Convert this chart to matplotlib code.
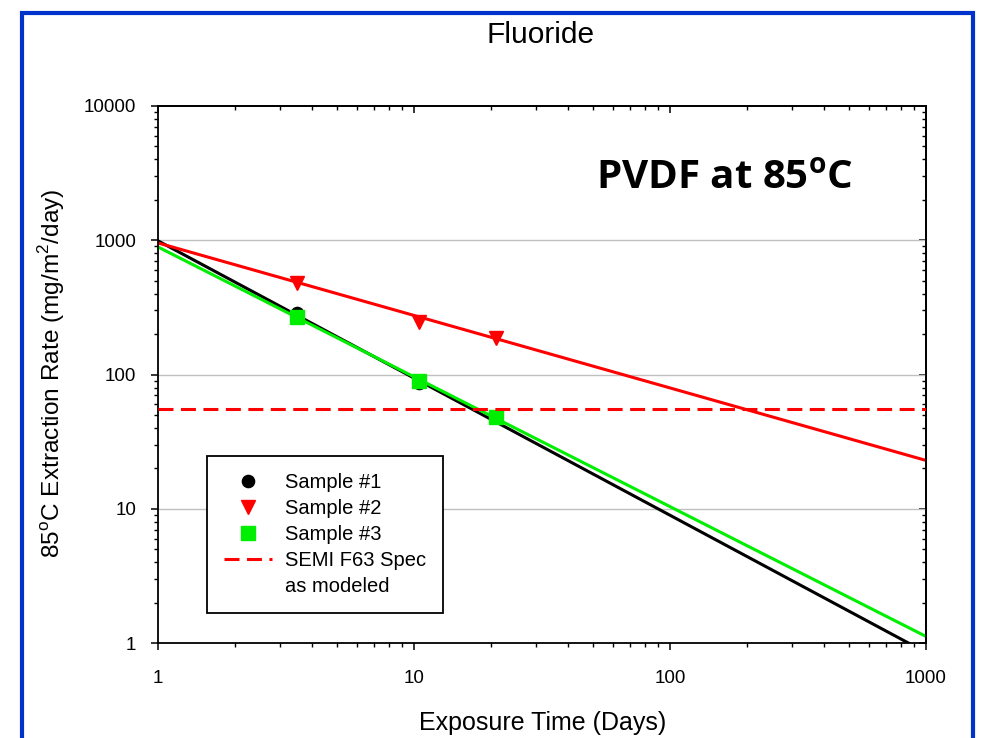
import numpy as np
import matplotlib
matplotlib.use("Agg")
import matplotlib.pyplot as plt
from matplotlib.ticker import FixedLocator, FuncFormatter, NullFormatter, LogLocator
from matplotlib.patches import Rectangle
from matplotlib.lines import Line2D

plt.rcParams['font.family'] = ['Liberation Sans', 'DejaVu Sans']
plt.rcParams['mathtext.fontset'] = 'custom'
plt.rcParams['mathtext.rm'] = 'Liberation Sans'
plt.rcParams['mathtext.bf'] = 'Open Sans:bold'

# ---- data ----
days = [3.5, 10.5, 21.0]
sample1 = [287, 86, 48]
sample2 = [481, 246, 188]
sample3 = [268, 90, 48]
# power-law fits y = a * x^b
fit_a = [990, 955, 891]
fit_b = [-1.022, -0.54, -0.967]
spec_value = 55
x_ticks = [1, 10, 100, 1000]
y_ticks = [1, 10, 100, 1000, 10000]
legend_labels = ['Sample #1', 'Sample #2', 'Sample #3', 'SEMI F63 Spec', 'as modeled']

W, H = 986, 738
fig = plt.figure(figsize=(W/100, H/100), dpi=100)
ax = fig.add_axes([158/W, 1-643/H, 768/W, 537/H])
ax.set_xscale('log')
ax.set_yscale('log')
ax.set_xlim(1, 1000)
ax.set_ylim(1, 10000)

# grid
for yv in [10, 100, 1000]:
    ax.axhline(yv, color='#c0c0c0', lw=1.0, zorder=0.5)

xx = np.logspace(0, 3, 200)
RED = '#ff0000'
GREEN = '#00ee00'
DASH = (4.9, 2.45)

ax.plot(xx, fit_a[0]*xx**fit_b[0], color='black', lw=2.2, zorder=2)
ax.plot(days, sample1, linestyle='none', marker='o', color='black', ms=8.8, zorder=2.1)
ax.plot(xx, fit_a[1]*xx**fit_b[1], color=RED, lw=2.2, zorder=2.2)
ax.plot(days, sample2, linestyle='none', marker='v', color=RED, ms=10.5, zorder=2.3)
ax.plot(xx, fit_a[2]*xx**fit_b[2], color=GREEN, lw=2.2, zorder=2.4)
ax.plot(days, sample3, linestyle='none', marker='s', color=GREEN, ms=9.4, zorder=2.5)
ax.axhline(spec_value, color=RED, lw=2.2, dashes=DASH, zorder=2.6)

# ticks: bottom/left outward, top/right inward
for axis, ticks in [(ax.xaxis, x_ticks), (ax.yaxis, y_ticks)]:
    axis.set_major_locator(FixedLocator(ticks))
    axis.set_major_formatter(FuncFormatter(lambda v, p: f"{v:g}"))
    axis.set_minor_locator(LogLocator(base=10, subs=np.arange(2, 10)))
    axis.set_minor_formatter(NullFormatter())
ax.tick_params(which='major', direction='out', length=5, width=1.1, labelsize=13.5)
ax.tick_params(axis='x', which='major', pad=14.5)
ax.tick_params(axis='y', which='major', pad=10.5)
ax.tick_params(which='minor', direction='out', length=3, width=1.0)
for s in ax.spines.values():
    s.set_linewidth(1.3)

sx = ax.secondary_xaxis('top')
sx.xaxis.set_major_locator(FixedLocator(x_ticks))
sx.xaxis.set_minor_locator(LogLocator(base=10, subs=np.arange(2, 10)))
sx.tick_params(which='major', direction='in', length=5, width=1.1, labeltop=False)
sx.tick_params(which='minor', direction='in', length=3, width=1.0)
sx.xaxis.set_minor_formatter(NullFormatter())
sx.spines['top'].set_linewidth(1.3)
sy = ax.secondary_yaxis('right')
sy.yaxis.set_major_locator(FixedLocator(y_ticks))
sy.yaxis.set_minor_locator(LogLocator(base=10, subs=np.arange(2, 10)))
sy.tick_params(which='major', direction='in', length=5, width=1.1, labelright=False)
sy.tick_params(which='minor', direction='in', length=3, width=1.0)
sy.yaxis.set_minor_formatter(NullFormatter())
sy.spines['right'].set_linewidth(1.3)

# labels
fig.text(541/W, 1-43.3/H, 'Fluoride', ha='center', va='baseline', fontsize=21.5)
fig.text(543/W, 1-730/H, 'Exposure Time (Days)', ha='center', va='baseline', fontsize=18)
fig.text(596/W, 1-188/H, r'PVDF at 85$^{\mathbf{o}}$C', ha='left', va='baseline',
         fontsize=29, fontweight='bold', family='Open Sans')
fig.text(52/W, 1-373.5/H, r'85$^{\mathrm{o}}$C Extraction Rate (mg/m$^2$/day)', rotation=90,
         ha='center', va='center', fontsize=17.6)

# legend
handles = [Line2D([], [], linestyle='none', marker='o', color='black', ms=8.8),
           Line2D([], [], linestyle='none', marker='v', color=RED, ms=10.5),
           Line2D([], [], linestyle='none', marker='s', color=GREEN, ms=9.4),
           Line2D([], [], color=RED, lw=2.2, dashes=DASH),
           Line2D([], [], linestyle='none', marker=None, color='none')]
leg = ax.legend(handles, legend_labels, loc='lower left',
                bbox_to_anchor=((207-158)/768, (643-613)/537),
                borderaxespad=0, fontsize=14.5, frameon=True, fancybox=False,
                handlelength=2.4, handletextpad=0.63, labelspacing=0.34,
                borderpad=0.85)
leg.get_frame().set_edgecolor('black')
leg.get_frame().set_linewidth(1.3)
leg.get_frame().set_alpha(1)

# blue border
fig.patches.append(Rectangle((22/W, -0.05), (973-22)/W, 1.05 - 13/H, transform=fig.transFigure,
                             fill=False, edgecolor='#0033cc', lw=3, clip_on=False))

fig.savefig('out.png', dpi=100)
